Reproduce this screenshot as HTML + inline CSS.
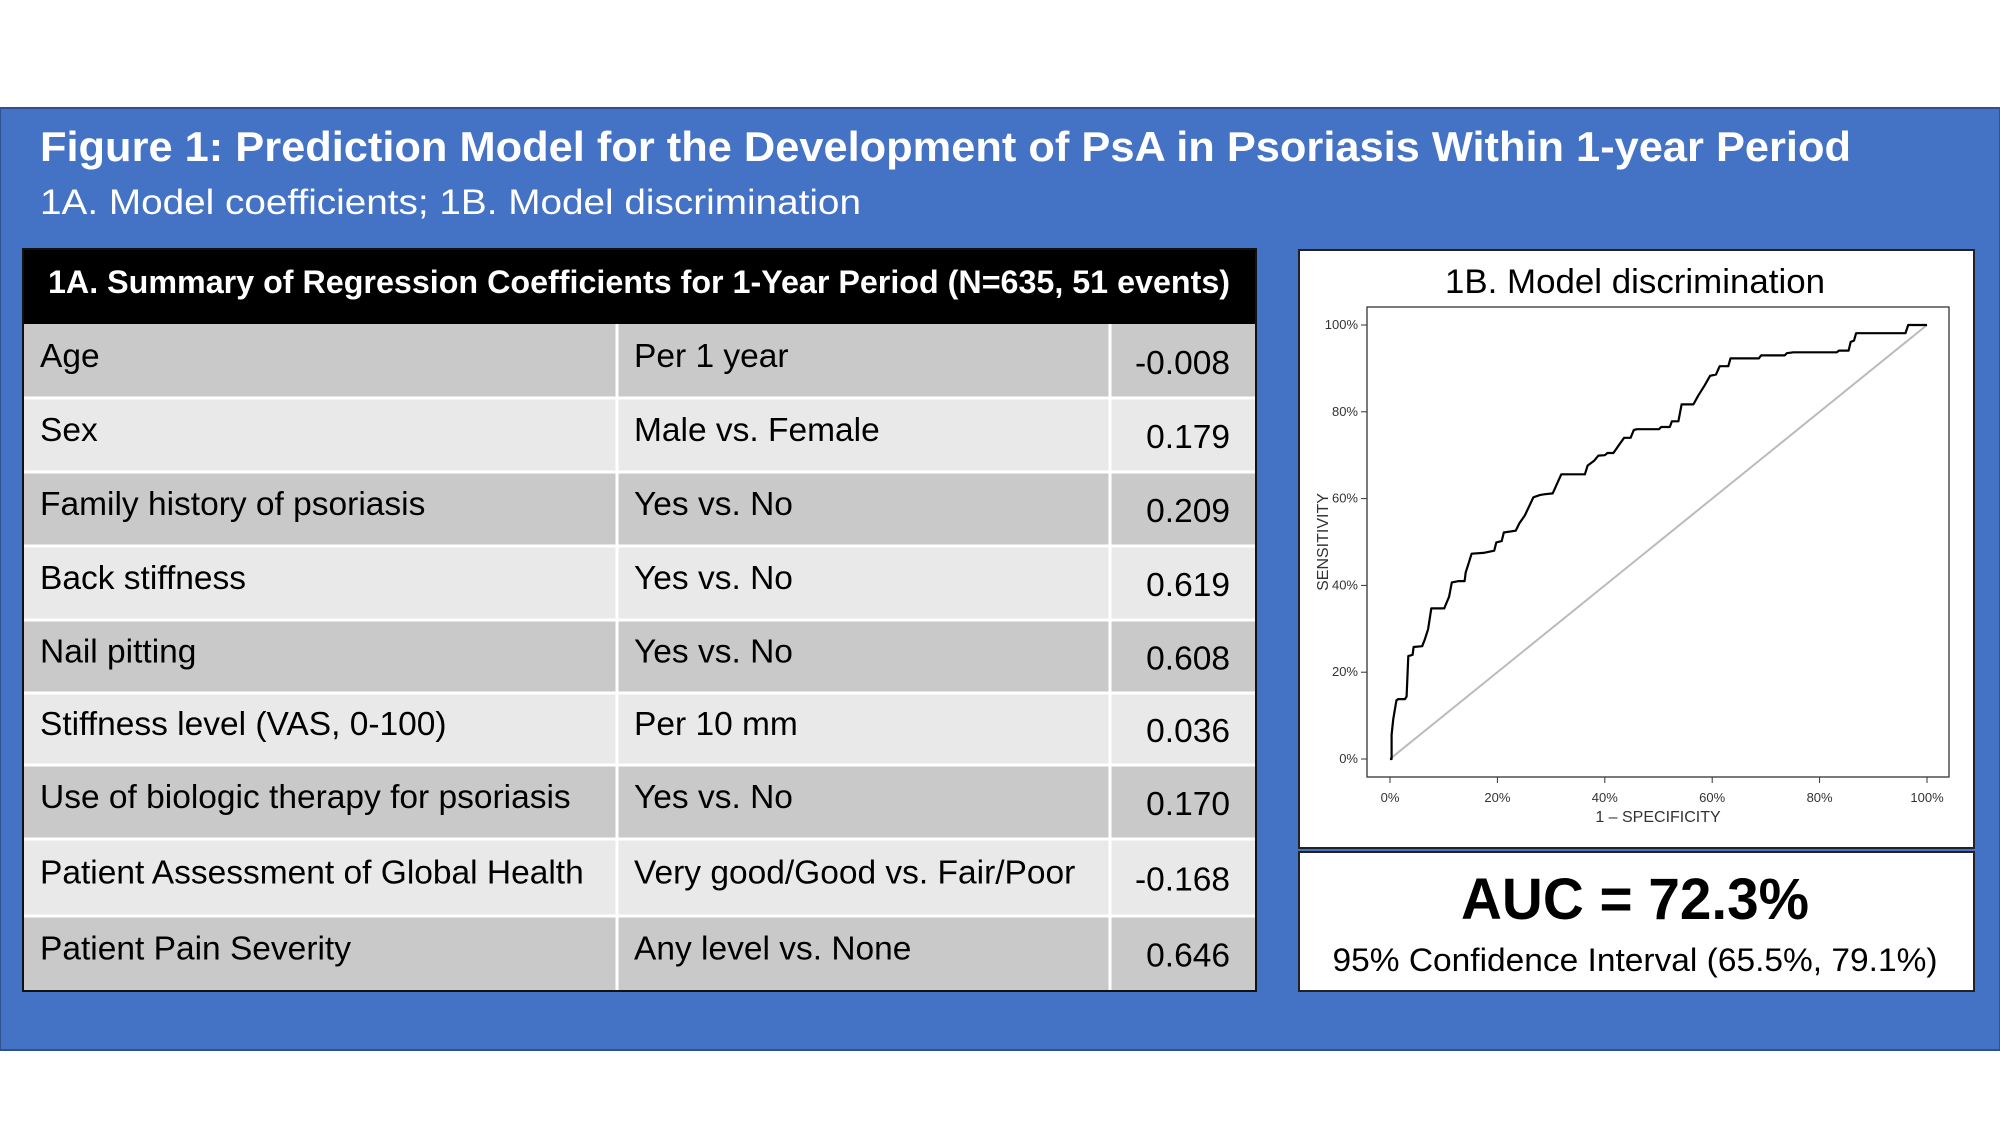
<!DOCTYPE html>
<html><head><meta charset="utf-8"><style>
html,body{margin:0;padding:0;background:#fff;}
svg{display:block;font-family:"Liberation Sans",sans-serif;}
</style></head><body>
<svg id="fig" width="2000" height="1125" viewBox="0 0 2000 1125">
  <rect x="0" y="108" width="2000" height="942" fill="#4472c4" stroke="#2f528f" stroke-width="2"/>
  <text x="40" y="161" font-size="42" font-weight="bold" fill="#fff" textLength="1811" lengthAdjust="spacingAndGlyphs">Figure 1: Prediction Model for the Development of PsA in Psoriasis Within 1-year Period</text>
  <text x="40" y="214" font-size="35" fill="#fff" textLength="821" lengthAdjust="spacingAndGlyphs">1A. Model coefficients; 1B. Model discrimination</text>

  <g id="table">
    <rect x="23" y="249" width="1233" height="75" fill="#000"/>
    <text x="48" y="293" font-size="32" font-weight="bold" fill="#fff" textLength="1182" lengthAdjust="spacingAndGlyphs">1A. Summary of Regression Coefficients for 1-Year Period (N=635, 51 events)</text>
  </g>

  <g>
    <rect x="1299" y="250" width="675" height="598" fill="#fff" stroke="#222" stroke-width="2"/>
    <rect x="1299" y="852" width="675" height="139" fill="#fff" stroke="#222" stroke-width="2"/>
    <text x="1635" y="293" font-size="34" text-anchor="middle" fill="#000" textLength="380" lengthAdjust="spacingAndGlyphs">1B. Model discrimination</text>
    <text x="1635" y="919" font-size="58" font-weight="bold" text-anchor="middle" fill="#000" textLength="348" lengthAdjust="spacingAndGlyphs">AUC = 72.3%</text>
    <text x="1635" y="971" font-size="32" text-anchor="middle" fill="#000" textLength="605" lengthAdjust="spacingAndGlyphs">95% Confidence Interval (65.5%, 79.1%)</text>
    <g id="roc"></g>
  </g>
</svg>
<script>
var rowLabels = ["Age","Sex","Family history of psoriasis","Back stiffness","Nail pitting","Stiffness level (VAS, 0-100)","Use of biologic therapy for psoriasis","Patient Assessment of Global Health","Patient Pain Severity"];
var rowCompare = ["Per 1 year","Male vs. Female","Yes vs. No","Yes vs. No","Yes vs. No","Per 10 mm","Yes vs. No","Very good/Good vs. Fair/Poor","Any level vs. None"];
var rowCoef = ["-0.008","0.179","0.209","0.619","0.608","0.036","0.170","-0.168","0.646"];

var fpr = [0,0.3,0.3,0.6,1.2,1.5,2.8,3.1,3.4,4.2,4.4,6,6.5,7.1,7.7,10.1,11,11.5,12.8,13.9,14.1,14.7,15.2,17.4,19.4,19.8,20.8,21.2,23.4,24.1,25.1,25.8,26.7,27.9,28.7,30.3,31.1,31.9,36.3,36.8,38,38.8,40,40.5,41.6,42.6,43.6,44.8,45.4,46,50.1,50.5,52.1,52.5,53.7,54.3,56.5,57.4,58.6,59.6,60.7,61.4,63,63.4,68.7,69.1,73.5,73.9,75.1,83.2,83.6,85.4,85.8,86.4,86.8,96,96.5,100];
var tpr = [0,0,5.6,9.1,13.5,13.8,13.8,14.4,23.7,24,25.8,26,27.6,29.9,34.7,34.7,37.4,40.7,41,41,43,45.3,47.3,47.5,48,49.9,50.2,52.2,52.6,54.3,56.1,57.9,60.3,60.8,61,61.2,63.4,65.6,65.6,67.6,68.7,69.9,70,70.5,70.5,72.3,74,74,75.8,76,76,76.5,76.5,77.8,77.8,81.7,81.7,83.7,86.1,88.3,88.6,90.5,90.5,92.3,92.3,93,93,93.5,93.7,93.7,94.1,94.1,96.1,96.4,98.1,98.1,100,100];
var ticks = [0,20,40,60,80,100];
var tickLabels = ["0%","20%","40%","60%","80%","100%"];

var NS = "http://www.w3.org/2000/svg";
function mk(tag, attrs, parent, txt){
  var e = document.createElementNS(NS, tag);
  for (var k in attrs) e.setAttribute(k, attrs[k]);
  if (txt !== undefined) e.textContent = txt;
  parent.appendChild(e);
  return e;
}

// table
var tbl = document.getElementById('table');
var bounds = [324,398,472,546,620,693,765,839,916,991];
var colX = [23,617,1110,1256];
for (var i = 0; i < rowLabels.length; i++) {
  var y0 = bounds[i], y1 = bounds[i+1];
  var g = mk('g', {}, tbl);
  
  
  var bg = mk('rect', {x:23, y:y0, width:1233, height:y1-y0, fill:(i%2===0?'#c9c9c9':'#e9e9e9')}, g);
  
  
  var mid = (y0+y1)/2;
  var t1 = mk('text', {x:40, y:mid+6, 'font-size':33.5, fill:'#000'}, g, rowLabels[i]);
  
  
  var t2 = mk('text', {x:634, y:mid+6, 'font-size':33.5, fill:'#000'}, g, rowCompare[i]);
  
  
  var t3 = mk('text', {x:1230, y:mid+13, 'font-size':33.5, fill:'#000', 'text-anchor':'end'}, g, rowCoef[i]);
  
  
  if (i > 0) {
    var sep = mk('line', {x1:23, x2:1256, y1:y0, y2:y0, stroke:'#fff', 'stroke-width':3}, g);
    
    
  }
}
for (var c = 1; c < 3; c++) {
  var vl = mk('line', {x1:colX[c], x2:colX[c], y1:324, y2:991, stroke:'#fff', 'stroke-width':3}, tbl);
  
  
}
var tb = mk('rect', {x:23, y:249, width:1233, height:742, fill:'none', stroke:'#111', 'stroke-width':2}, tbl);



// ROC chart
var roc = document.getElementById('roc');
function sx(v){ return 1390 + (v/100)*(1927-1390); }
function sy(v){ return 759 - (v/100)*(759-325); }
var frame = mk('rect', {x:1367, y:307, width:582, height:470, fill:'none', stroke:'#333', 'stroke-width':1.3}, roc);


var diag = mk('line', {x1:sx(0), y1:sy(0), x2:sx(100), y2:sy(100), stroke:'#bbb', 'stroke-width':2}, roc);


for (var j = 0; j < ticks.length; j++) {
  var tx = mk('line', {x1:sx(ticks[j]), x2:sx(ticks[j]), y1:777, y2:783, stroke:'#333', 'stroke-width':1}, roc);
  
  
  var lx = mk('text', {x:sx(ticks[j]), y:802, 'font-size':13, 'text-anchor':'middle', fill:'#333'}, roc, tickLabels[j]);
  
  
  var ty = mk('line', {x1:1361, x2:1367, y1:sy(ticks[j]), y2:sy(ticks[j]), stroke:'#333', 'stroke-width':1}, roc);
  
  
  var ly = mk('text', {x:1358, y:sy(ticks[j])+4, 'font-size':13, 'text-anchor':'end', fill:'#333'}, roc, tickLabels[j]);
  
  
}
var xt = mk('text', {x:1658, y:822, 'font-size':16, 'text-anchor':'middle', fill:'#333'}, roc, '1 \u2013 SPECIFICITY');


var yt = mk('text', {x:0, y:0, 'font-size':16, 'text-anchor':'middle', fill:'#333', transform:'translate(1328,542) rotate(-90)'}, roc, 'SENSITIVITY');


var pts = [];
for (var k = 0; k < fpr.length; k++) pts.push(sx(fpr[k]).toFixed(1) + ',' + sy(tpr[k]).toFixed(1));
var curve = mk('polyline', {points:pts.join(' '), fill:'none', stroke:'#000', 'stroke-width':2.2, 'stroke-linejoin':'round'}, roc);


</script>
</body></html>
